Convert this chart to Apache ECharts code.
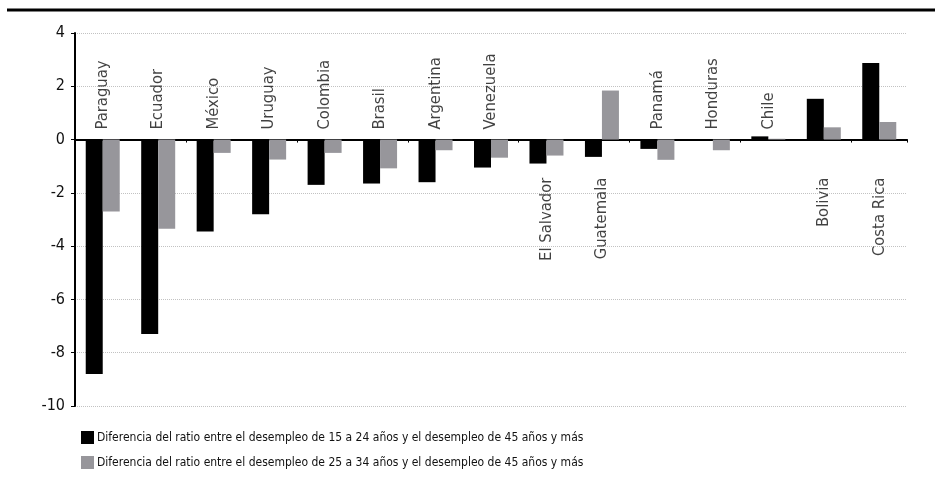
<!DOCTYPE html>
<html>
<head>
<meta charset="utf-8">
<script src="https://cdn.jsdelivr.net/npm/echarts@6/dist/echarts.min.js"></script>
<style>
  html, body { margin: 0; padding: 0; background: #fff; }
  #chart { width: 935px; height: 488px; }
</style>
</head>
<body>
<div id="chart"></div>
<script>
// data
var categories = ['Paraguay', 'Ecuador', 'México', 'Uruguay', 'Colombia', 'Brasil', 'Argentina', 'Venezuela',
  'El Salvador', 'Guatemala', 'Panamá', 'Honduras', 'Chile', 'Bolivia', 'Costa Rica'];
var diff15to24 = [-8.8, -7.3, -3.45, -2.8, -1.7, -1.65, -1.6, -1.05, -0.9, -0.65, -0.35, -0.05, 0.12, 1.53, 2.87];
var diff25to34 = [-2.7, -3.35, -0.5, -0.75, -0.5, -1.08, -0.4, -0.68, -0.6, 1.84, -0.76, -0.4, 0.03, 0.46, 0.66];
var seriesNames = [
  'Diferencia del ratio entre el desempleo de 15 a 24 años y el desempleo de 45 años y más',
  'Diferencia del ratio entre el desempleo de 25 a 34 años y el desempleo de 45 años y más'
];
// countries whose name sits under the zero line
var namesBelow = ['El Salvador', 'Guatemala', 'Bolivia', 'Costa Rica'];

var FONT = '"Liberation Sans Narrow", "DejaVu Sans Condensed", "Roboto", sans-serif';
var chart = echarts.init(document.getElementById('chart'));

var labelData = categories.map(function (c) {
  var below = namesBelow.indexOf(c) >= 0;
  return {
    name: c,
    value: [c, 0],
    label: below
      ? { position: 'bottom', distance: 38, rotate: 90, align: 'right', verticalAlign: 'middle' }
      : { position: 'top', distance: 10, rotate: 90, align: 'left', verticalAlign: 'middle' }
  };
});

var option = {
  animation: false,
  textStyle: { fontFamily: FONT },
  graphic: [{
    type: 'line',
    shape: { x1: 7, y1: 10, x2: 935, y2: 10 },
    style: { stroke: '#000', lineWidth: 3 }
  }],
  grid: { left: 75, right: 28, top: 33, bottom: 82 },
  legend: {
    orient: 'vertical',
    left: 81, top: 431,
    padding: 0,
    itemWidth: 13, itemHeight: 13, itemGap: 12,
    icon: 'rect',
    data: seriesNames,
    textStyle: { fontFamily: FONT, fontSize: 12, color: '#111', padding: [0, 0, 0, -2] }
  },
  xAxis: {
    type: 'category',
    data: categories,
    axisLine: { onZero: true, lineStyle: { color: '#000', width: 2 } },
    axisTick: { show: true, length: 3, lineStyle: { color: '#000' } },
    axisLabel: { show: false },
    splitLine: { show: false }
  },
  yAxis: {
    type: 'value',
    min: -10, max: 4, interval: 2,
    axisLine: { show: true, lineStyle: { color: '#000', width: 2 } },
    axisTick: { show: true, length: 4, lineStyle: { color: '#000' } },
    axisLabel: { fontFamily: FONT, fontSize: 16, color: '#111', margin: 10 },
    splitLine: { show: true, lineStyle: { type: 'dotted', color: '#c2c2c2', width: 1 } }
  },
  series: [
    {
      name: seriesNames[0], type: 'bar', data: diff15to24,
      barWidth: 17, barGap: '0%',
      itemStyle: { color: '#000' }
    },
    {
      name: seriesNames[1], type: 'bar', data: diff25to34,
      barWidth: 17,
      itemStyle: { color: '#97969b' }
    },
    {
      type: 'scatter', symbolSize: 0, silent: true, z: 5,
      data: labelData,
      label: { show: true, formatter: '{b}', fontFamily: FONT, fontSize: 16.5, color: '#111' }
    }
  ]
};
chart.setOption(option);
</script>
</body>
</html>
